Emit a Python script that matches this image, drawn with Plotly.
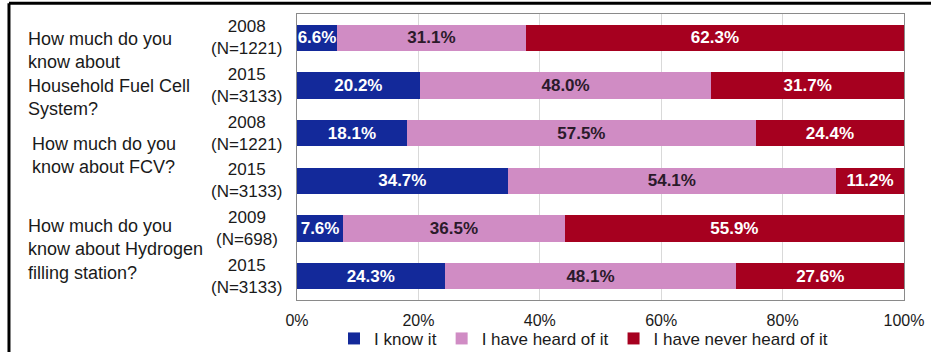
import plotly.graph_objects as go

# ---------------- data ----------------
years = ["2008<br>(N=1221)", "2015<br>(N=3133)",
         "2008<br>(N=1221)", "2015<br>(N=3133)",
         "2009<br>(N=698)", "2015<br>(N=3133)"]
know = [6.6, 20.2, 18.1, 34.7, 7.6, 24.3]
heard = [31.1, 48.0, 57.5, 54.1, 36.5, 48.1]
never = [62.3, 31.7, 24.4, 11.2, 55.9, 27.6]
series_names = ["I know it", "I have heard of it", "I have never heard of it"]
questions = ["How much do you<br>know about<br>Household Fuel Cell<br>System?",
             "How much do you<br>know about FCV?",
             "How much do you<br>know about Hydrogen<br>filling station?"]
x_ticks = [0, 20, 40, 60, 80, 100]
x_tick_labels = ["0%", "20%", "40%", "60%", "80%", "100%"]

# ---------------- style ----------------
colors = ["#13299a", "#d08cc4", "#a6001f"]
text_colors = ["#ffffff", "#2a1a2a", "#ffffff"]
FONT = "Liberation Sans, Arial, sans-serif"

rows = list(range(len(years)))

fig = go.Figure()
for name, vals, c, tc in zip(series_names, [know, heard, never], colors, text_colors):
    fig.add_trace(go.Bar(
        y=rows, x=vals, name=name, orientation="h",
        marker=dict(color=c, line=dict(width=0)),
        text=vals, texttemplate="%{text:.1f}%", textposition="inside",
        insidetextanchor="middle", constraintext="none",
        textfont=dict(family=FONT, size=17, color=tc, weight="bold"),
        hoverinfo="skip",
    ))

# year labels
for r, lab in zip(rows, years):
    fig.add_annotation(x=-0.0824, xref="paper", y=r, yref="y", text=lab,
                       showarrow=False, xanchor="center", yanchor="middle",
                       align="center", font=dict(family=FONT, size=17, color="#1a1a1a"))

# question labels
q_pos = [(0.76, -0.446), (2.46, -0.440), (4.43, -0.446)]
for q, (yy, xx) in zip(questions, q_pos):
    fig.add_annotation(x=xx, xref="paper", y=yy, yref="y", text=q,
                       showarrow=False, xanchor="left", yanchor="middle",
                       align="left", font=dict(family=FONT, size=18, color="#1a1a1a"))

# outer black frame (top and left)
fig.add_shape(type="line", xref="paper", yref="paper",
              x0=-0.4745, x1=1.06, y0=1.038, y1=1.038,
              line=dict(color="black", width=3))
fig.add_shape(type="line", xref="paper", yref="paper",
              x0=-0.4745, x1=-0.4745, y0=1.038, y1=-0.19,
              line=dict(color="black", width=3))

fig.update_layout(
    width=931, height=352,
    margin=dict(l=297, r=27, t=14, b=52, autoexpand=False),
    barmode="stack", barnorm="percent", bargap=0.45,
    plot_bgcolor="white", paper_bgcolor="white",
    font=dict(family=FONT, size=16, color="#1a1a1a"),
    showlegend=True,
    legend=dict(orientation="h", x=0.472, xanchor="center", y=-0.136, yanchor="middle",
                traceorder="normal",
                font=dict(family=FONT, size=17, color="#1a1a1a"),
                itemwidth=30, tracegroupgap=0, bgcolor="rgba(0,0,0,0)"),
    xaxis=dict(range=[0, 100], tickvals=x_ticks, ticktext=x_tick_labels,
               showgrid=True, gridcolor="#d9d9d9", gridwidth=1,
               showline=True, linecolor="#8a8a8a", linewidth=1, mirror=True,
               zeroline=False, ticks="", ticklabelstandoff=6,
               tickfont=dict(family=FONT, size=16, color="#1a1a1a"),
               fixedrange=True),
    yaxis=dict(range=[len(years) - 0.5, -0.5], showticklabels=False,
               showgrid=False, zeroline=False,
               showline=True, linecolor="#8a8a8a", linewidth=1, mirror=True,
               ticks="", fixedrange=True),
)

fig.write_html("out.html", config={"displayModeBar": False},
               post_script="document.body.style.margin='0';document.body.style.overflow='hidden';")
